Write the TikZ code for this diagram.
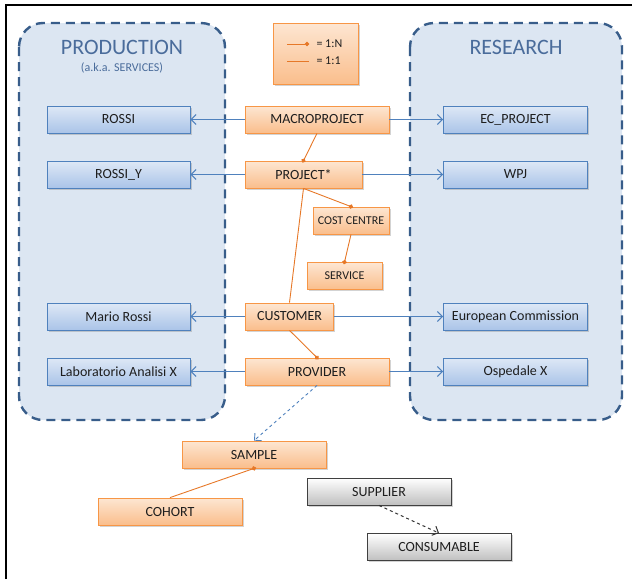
\documentclass[tikz,border=0pt]{standalone}
\usepackage{fontspec}
\setmainfont{Carlito}
\usepackage{xcolor}
\definecolor{panelblue}{RGB}{220,230,242}
\definecolor{paneledge}{RGB}{56,93,138}
\definecolor{titleblue}{RGB}{74,108,155}
\definecolor{ortop}{RGB}{253,230,210}
\definecolor{orbot}{RGB}{250,190,140}
\definecolor{oredge}{RGB}{247,150,70}
\definecolor{orline}{RGB}{230,120,40}
\definecolor{bltop}{RGB}{222,232,246}
\definecolor{blbot}{RGB}{170,196,232}
\definecolor{bledge}{RGB}{79,129,189}
\definecolor{txt}{RGB}{30,30,30}
\usetikzlibrary{arrows.meta,shadows}

\begin{document}
\begin{tikzpicture}[x=1pt,y=-1pt,
  every node/.style={font=\fontsize{14}{16}\selectfont,text=txt},
  panel/.style={draw=paneledge,fill=panelblue,line width=2.4pt,
    dash pattern=on 9pt off 6pt,rounded corners=24pt},
  shad/.style={drop shadow={shadow xshift=1.5pt,shadow yshift=-1.5pt,
    opacity=0.35,fill=black!50}},
  obox/.style={draw=oredge,top color=ortop,bottom color=orbot,thick,shad,
    minimum width=144pt,minimum height=27pt,inner sep=0pt},
  bbox/.style={draw=bledge,top color=bltop,bottom color=blbot,thick,shad,
    minimum width=144pt,minimum height=27pt,inner sep=0pt},
  gbox/.style={draw=black!75,top color=white,bottom color=black!25,thick,shad,
    minimum width=144pt,minimum height=27pt,inner sep=0pt},
  arr/.style={-{Straight Barb[length=5pt,width=10pt]},bledge,line width=1pt},
  one/.style={orline,line width=0.9pt},
  many/.style={one,-{Circle[length=4.5pt]},shorten >=-2.2pt}]
  \useasboundingbox (0,0) rectangle (632,579);
  \draw[line width=2pt] (6,579) -- (6,5) -- (632,5);
  % the two areas
  \draw[panel] (19,23) rectangle (225,420);
  \draw[panel] (410,23) rectangle (622,420);
  \node[text=titleblue,font=\fontsize{22}{24}\selectfont] (prod) at (122,47) {PRODUCTION};
  \node[text=titleblue,font=\fontsize{12}{14}\selectfont] (aka) at (122,68) {(a.k.a. SERVICES)};
  \node[text=titleblue,font=\fontsize{22}{24}\selectfont] (res) at (516,47) {RESEARCH};
  % legend
  \node[obox,minimum width=85pt,minimum height=61pt] (legend) at (315.5,53.5) {};
  \coordinate (l1a) at (287,44); \coordinate (l1b) at (307,44);
  \coordinate (l2a) at (287,61); \coordinate (l2b) at (309,61);
  \draw[many] (l1a) -- (l1b);
  \draw[one] (l2a) -- (l2b);
  \node[anchor=west,font=\fontsize{12}{14}\selectfont] (ln) at (313,44) {= 1:N};
  \node[anchor=west,font=\fontsize{12}{14}\selectfont] (l1) at (313,61) {= 1:1};
  % central entities
  \node[obox] (macro) at (317,119.5) {MACROPROJECT};
  \node[obox,minimum width=117pt] (proj) at (303.5,174.5) {PROJECT*};
  \node[obox,minimum width=76pt,font=\fontsize{12}{14}\selectfont] (cost) at (351,220.5) {COST CENTRE};
  \node[obox,minimum width=75pt,font=\fontsize{12}{14}\selectfont] (serv) at (344.5,276) {SERVICE};
  \node[obox,minimum width=88pt] (cust) at (289.5,316.5) {CUSTOMER};
  \node[obox] (prov) at (317,371.5) {PROVIDER};
  \node[obox] (sample) at (254,454.5) {SAMPLE};
  \node[obox] (cohort) at (170,511.5) {COHORT};
  \node[gbox] (supp) at (379,491.5) {SUPPLIER};
  \node[gbox] (cons) at (439,547) {CONSUMABLE};
  % production side
  \node[bbox,minimum width=143pt] (rossi) at (118.5,119.5) {ROSSI};
  \node[bbox,minimum width=143pt] (rossiy) at (118.5,174.5) {ROSSI\_Y};
  \node[bbox,minimum width=143pt] (mario) at (118.5,316.5) {Mario Rossi};
  \node[bbox,minimum width=143pt] (lab) at (118.5,371.5) {Laboratorio Analisi X};
  % research side
  \node[bbox] (ecp) at (515.5,119.5) {EC\_PROJECT};
  \node[bbox] (wpj) at (515.5,174.5) {WPJ};
  \node[bbox] (ec) at (515.5,316.5) {European Commission};
  \node[bbox] (osp) at (515.5,371.5) {Ospedale X};
  % links
  \draw[arr] (macro) -- (rossi); \draw[arr] (macro) -- (ecp);
  \draw[arr] (proj) -- (rossiy); \draw[arr] (proj) -- (wpj);
  \draw[arr] (cust) -- (mario); \draw[arr] (cust) -- (ec);
  \draw[arr] (prov) -- (lab); \draw[arr] (prov) -- (osp);
  \draw[many] (macro.south) -- (proj.north);
  \draw[many] (proj.south) -- (cost.north);
  \draw[many] (cost.south) -- (serv.north);
  \draw[one] (proj.south) -- (cust.north);
  \draw[many] (cust.south) -- (prov.north);
  \draw[arr,dashed,line width=0.9pt] (prov.south) -- (sample.north);
  \draw[many] (cohort.north) -- (sample.south);
  \draw[-{Straight Barb[length=5pt,width=10pt]},dashed,black!80,line width=1pt] (supp.south) -- (cons.north);
\end{tikzpicture}
\end{document}
